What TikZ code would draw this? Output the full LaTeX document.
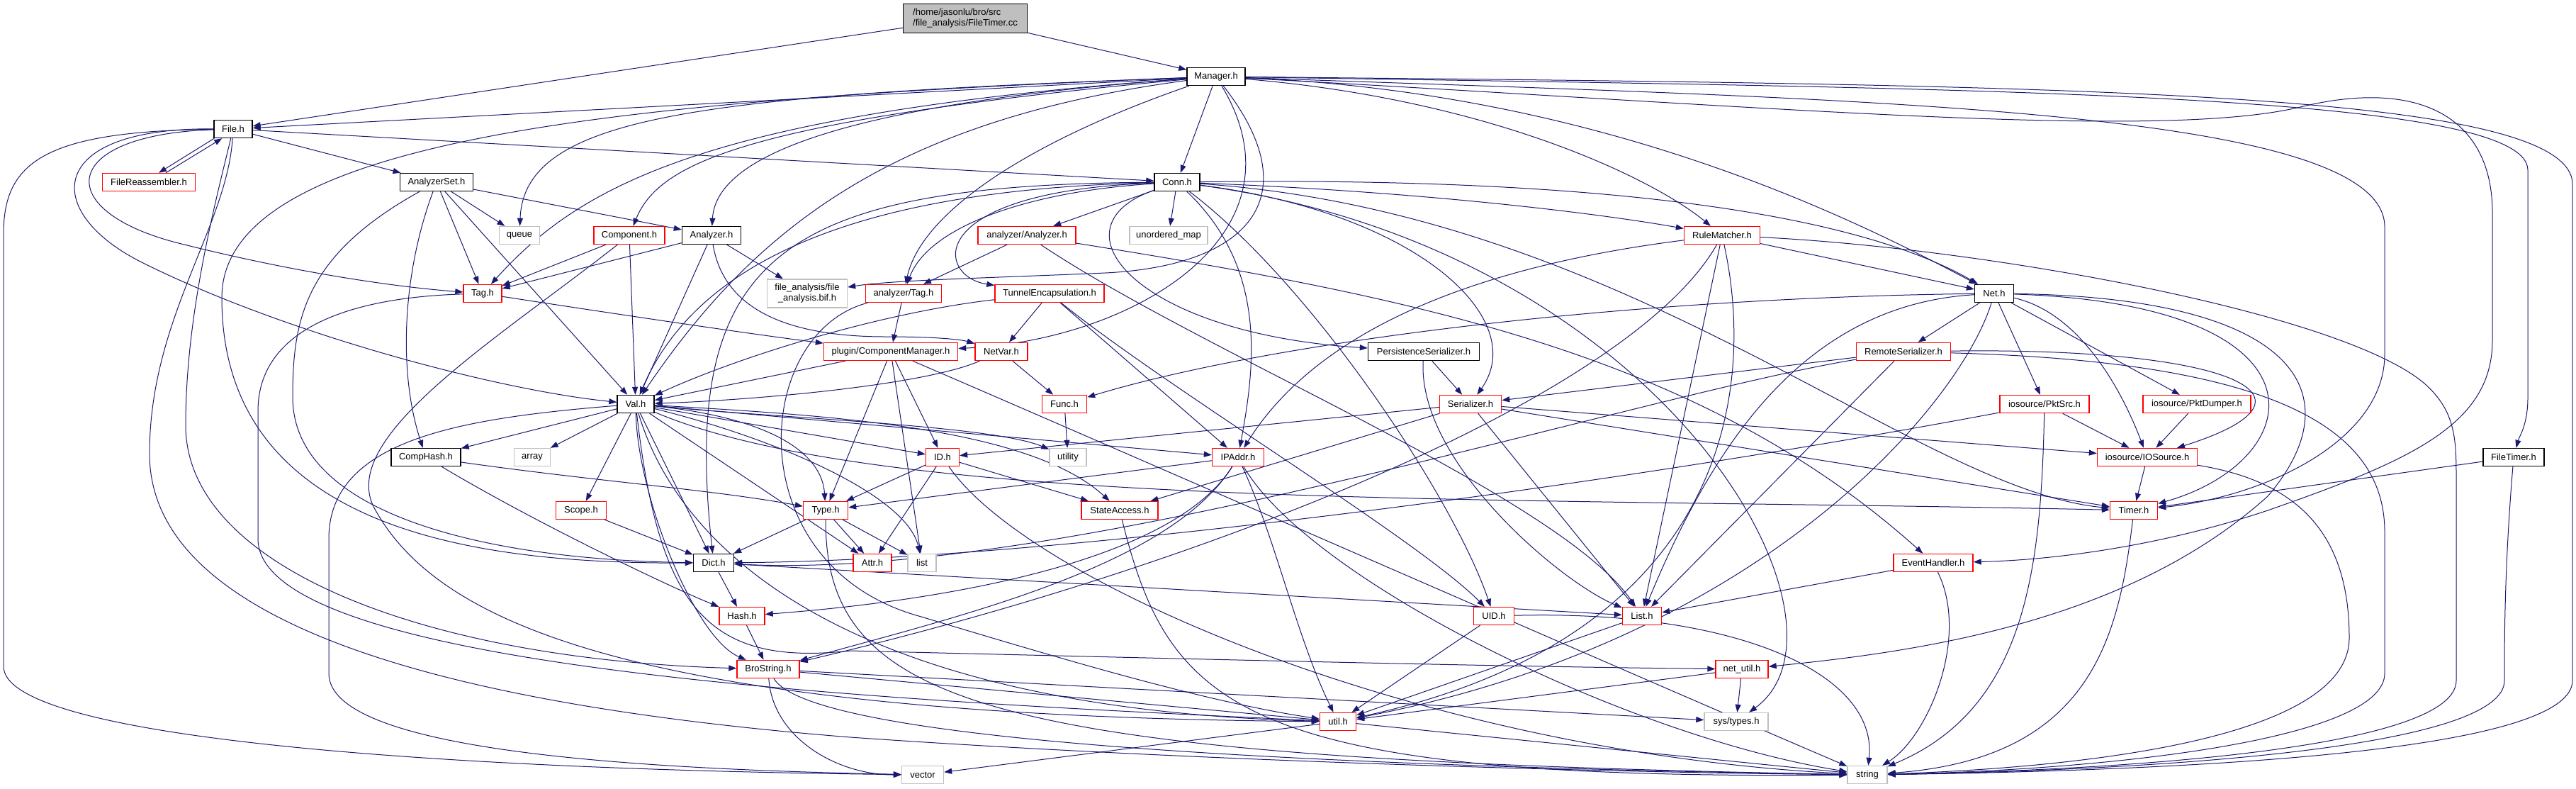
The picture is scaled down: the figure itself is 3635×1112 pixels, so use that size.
\documentclass[tikz,border=0pt]{standalone}
\usepackage{fontspec}
\setmainfont{Liberation Sans}
\usetikzlibrary{arrows.meta}
\definecolor{edgeblue}{HTML}{191970}
\definecolor{extgray}{HTML}{BFBFBF}
\pgfdeclarelayer{edges}
\pgfsetlayers{edges,main}

\begin{document}
\begin{tikzpicture}[x=1pt, y=-1pt,
    hfile/.style={rectangle, draw, fill=white, line width=1.4pt, minimum height=25pt,
      inner sep=0pt, font=\fontsize{13}{15}\selectfont},
    known/.style={hfile, draw=black},
    trunc/.style={hfile, draw=red},
    sysh/.style={hfile, draw=extgray},
    incl/.style={draw=edgeblue, line width=1pt, -{Triangle[length=11pt,width=8pt]}}]

    \useasboundingbox (0,0) rectangle (3635,1112);

    % Kořen
    \node[hfile, fill=extgray, minimum width=175pt, minimum height=41pt, align=left] (root) at (1362,26)
        {/home/jasonlu/bro/src\\/file\_analysis/FileTimer.cc};

    % Hlavičky (černé, červené, systémové)
    \node[known, minimum width=82pt] (mgr) at (1716,108) {Manager.h};
    \node[known, minimum width=54pt] (fileh) at (329,182) {File.h};
    \node[trunc, minimum width=131pt] (freasm) at (210,257) {FileReassembler.h};
    \node[known, minimum width=103pt] (aset) at (616,257) {AnalyzerSet.h};
    \node[known, minimum width=64pt] (conn) at (1661,257) {Conn.h};
    \node[sysh, minimum width=57pt] (queue) at (733,332) {queue};
    \node[trunc, minimum width=100pt] (comp) at (888,332) {Component.h};
    \node[known, minimum width=83pt] (analyzer) at (1004,332) {Analyzer.h};
    \node[trunc, minimum width=138pt] (aanalyzer) at (1449,332) {analyzer/Analyzer.h};
    \node[sysh, minimum width=110pt] (umap) at (1649,332) {unordered\_map};
    \node[trunc, minimum width=107pt] (rule) at (2430,332) {RuleMatcher.h};
    \node[trunc, minimum width=54pt] (tag) at (681,414) {Tag.h};
    \node[sysh, minimum width=113pt, minimum height=40pt, align=center] (bif) at (1139,414)
        {file\_analysis/file\\\_analysis.bif.h};
    \node[trunc, minimum width=107pt] (atag) at (1275,414) {analyzer/Tag.h};
    \node[trunc, minimum width=154pt] (tunnel) at (1481,414) {TunnelEncapsulation.h};
    \node[known, minimum width=55pt] (net) at (2814,414) {Net.h};
    \node[trunc, minimum width=189pt] (compmgr) at (1257,496) {plugin/ComponentManager.h};
    \node[trunc, minimum width=74pt] (netvar) at (1413,496) {NetVar.h};
    \node[known, minimum width=157pt] (pers) at (2009,496) {PersistenceSerializer.h};
    \node[trunc, minimum width=133pt] (remote) at (2686,496) {RemoteSerializer.h};
    \node[known, minimum width=52pt] (val) at (897,570) {Val.h};
    \node[trunc, minimum width=63pt] (func) at (1502,570) {Func.h};
    \node[trunc, minimum width=87pt] (ser) at (2075,570) {Serializer.h};
    \node[trunc, minimum width=126pt] (pktsrc) at (2885,570) {iosource/PktSrc.h};
    \node[trunc, minimum width=152pt] (pktdump) at (3100,570) {iosource/PktDumper.h};
    \node[known, minimum width=98pt] (comphash) at (601,645) {CompHash.h};
    \node[sysh, minimum width=51pt] (array) at (751,645) {array};
    \node[trunc, minimum width=47pt] (idh) at (1330,645) {ID.h};
    \node[sysh, minimum width=52pt] (utility) at (1507,645) {utility};
    \node[trunc, minimum width=73pt] (ipaddr) at (1747,645) {IPAddr.h};
    \node[trunc, minimum width=141pt] (iosrc) at (3030,645) {iosource/IOSource.h};
    \node[known, minimum width=86pt] (ftimer) at (3547,645) {FileTimer.h};
    \node[trunc, minimum width=71pt] (scope) at (820,720) {Scope.h};
    \node[trunc, minimum width=63pt] (type) at (1165,720) {Type.h};
    \node[trunc, minimum width=108pt] (stacc) at (1580,720) {StateAccess.h};
    \node[trunc, minimum width=67pt] (timer) at (3011,720) {Timer.h};
    \node[known, minimum width=57pt] (dict) at (1007,794) {Dict.h};
    \node[trunc, minimum width=54pt] (attr) at (1231,794) {Attr.h};
    \node[sysh, minimum width=40pt] (list) at (1301,794) {list};
    \node[trunc, minimum width=112pt] (evh) at (2728,794) {EventHandler.h};
    \node[trunc, minimum width=64pt] (hash) at (1047,869) {Hash.h};
    \node[trunc, minimum width=57pt] (uid) at (2108,869) {UID.h};
    \node[trunc, minimum width=55pt] (listh) at (2317,869) {List.h};
    \node[trunc, minimum width=88pt] (bstr) at (1084,944) {BroString.h};
    \node[trunc, minimum width=74pt] (netutil) at (2458,944) {net\_util.h};
    \node[trunc, minimum width=51pt] (util) at (1888,1018) {util.h};
    \node[sysh, minimum width=90pt] (systypes) at (2450,1018) {sys/types.h};
    \node[sysh, minimum width=59pt] (vector) at (1302,1093) {vector};
    \node[sysh, minimum width=56pt] (string) at (2635,1093) {string};

    \begin{pgfonlayer}{edges}
    % Přímé hrany
    \foreach \a/\b in {root/fileh, root/mgr, mgr/fileh, mgr/conn, fileh/aset, fileh/conn,
        aset/analyzer, aset/queue, aset/tag, aset/val, comp/tag, comp/val,
        analyzer/tag, analyzer/val, analyzer/bif, conn/aanalyzer, conn/umap,
        aanalyzer/atag, atag/compmgr, tunnel/netvar, tunnel/ipaddr,
        compmgr/val, compmgr/type, compmgr/idh, compmgr/list, netvar/func, func/utility,
        val/comphash, val/array, val/scope, val/dict, val/attr, val/idh, val/ipaddr,
        scope/dict, type/dict, type/attr, type/list, idh/type, idh/attr, idh/stacc,
        ipaddr/type, dict/hash, dict/listh, hash/bstr, bstr/util, bstr/systypes,
        uid/util, listh/util, netutil/util, netutil/systypes, util/vector, util/string,
        evh/listh, iosrc/timer, ftimer/timer, pktsrc/iosrc, pktdump/iosrc,
        remote/ser, remote/listh, pers/ser, ser/idh, ser/listh, ser/iosrc, ser/timer, ser/stacc,
        rule/net, rule/listh, net/remote, net/pktsrc, net/pktdump}
        \draw[incl] (\a) -- (\b);

    \draw[incl] ([xshift=1pt]fileh.south west) -- ([xshift=14pt]freasm.north);
    \draw[incl] ([xshift=24pt]freasm.north) -- ([xshift=12pt]fileh.south west);

    % Oblouky z File.h
    \draw[incl] (fileh) .. controls (60,185) and (5,230) .. (5,330) -- (5,940)
        .. controls (5,1040) and (600,1085) .. (vector);
    \draw[incl] (fileh) .. controls (60,180) and (60,300) .. (200,370)
        .. controls (400,470) and (700,550) .. (val);
    \draw[incl] (fileh) .. controls (80,190) and (70,300) .. (260,345)
        .. controls (420,385) and (560,405) .. (tag);
    \draw[incl] (fileh) .. controls (300,300) and (262,450) .. (262,600)
        .. controls (262,800) and (600,930) .. (bstr);
    \draw[incl] (fileh) .. controls (320,320) and (211,450) .. (211,640)
        .. controls (211,900) and (700,1000) .. (1200,1040)
        .. controls (1700,1075) and (2300,1090) .. (string);

    % Oblouky z Manager.h
    \draw[incl] (mgr) .. controls (1000,135) and (740,160) .. (queue);
    \draw[incl] (mgr) .. controls (1000,160) and (820,260) .. (tag);
    \draw[incl] (mgr) .. controls (1050,170) and (930,230) .. (comp);
    \draw[incl] (mgr) .. controls (1150,150) and (1010,230) .. (analyzer);
    \draw[incl] (mgr) .. controls (1250,170) and (1060,330) .. (val);
    \draw[incl] (mgr) .. controls (1450,200) and (1300,300) .. (atag);
    \draw[incl] (mgr) .. controls (1850,280) and (1760,375) .. (1560,385)
        .. controls (1400,392) and (1260,395) .. (bif);
    \draw[incl] (mgr) .. controls (1850,330) and (1600,480) .. (compmgr);
    \draw[incl] (mgr) .. controls (2100,140) and (2330,250) .. (rule);
    \draw[incl] (mgr) .. controls (2250,130) and (2600,300) .. (net);
    \draw[incl] (mgr) .. controls (900,140) and (313,190) .. (313,420)
        .. controls (313,760) and (700,795) .. (dict);
    \draw[incl] (mgr) .. controls (2600,140) and (3365,150) .. (3365,320) -- (3365,500)
        .. controls (3365,620) and (3200,700) .. (timer);
    \draw[incl] (mgr) .. controls (2500,150) and (3050,200) .. (3250,150)
        .. controls (3420,110) and (3517,170) .. (3517,300) -- (3517,480)
        .. controls (3517,600) and (3400,650) .. (3200,720)
        .. controls (3050,770) and (2900,790) .. (evh);
    \draw[incl] (mgr) .. controls (2800,125) and (3567,130) .. (3567,240) -- (3567,560)
        .. controls (3567,600) and (3555,615) .. (ftimer);
    \draw[incl] (mgr) .. controls (2900,120) and (3630,125) .. (3630,260) -- (3630,960)
        .. controls (3630,1050) and (3200,1085) .. (string);

    % Oblouky z Conn.h
    \draw[incl] (conn) .. controls (1450,270) and (1310,320) .. (atag);
    \draw[incl] (conn) .. controls (1300,270) and (1320,390) .. (tunnel);
    \draw[incl] (conn) .. controls (1300,265) and (1000,330) .. (val);
    \draw[incl] (conn) .. controls (1100,260) and (960,360) .. (dict);
    \draw[incl] (conn) .. controls (1480,320) and (1600,470) .. (pers);
    \draw[incl] (conn) .. controls (2000,300) and (2160,450) .. (ser);
    \draw[incl] (conn) .. controls (1790,380) and (1770,520) .. (ipaddr);
    \draw[incl] (conn) .. controls (1850,400) and (2050,700) .. (uid);
    \draw[incl] (conn) .. controls (2350,350) and (2640,880) .. (systypes);
    \draw[incl] (conn) .. controls (2000,270) and (2250,300) .. (rule);
    \draw[incl] (conn) .. controls (2200,250) and (2600,290) .. (net);
    \draw[incl] (conn) .. controls (2300,300) and (2700,690) .. (timer);

    % Oblouky ze středu
    \draw[incl] (aset) .. controls (570,380) and (560,520) .. (comphash);
    \draw[incl] (aset) .. controls (430,360) and (413,450) .. (413,560)
        .. controls (413,730) and (700,790) .. (dict);
    \draw[incl] (comp) .. controls (700,480) and (470,620) .. (530,720)
        .. controls (620,880) and (900,1010) .. (util);
    \draw[incl] (analyzer) .. controls (1020,430) and (1100,475) .. (1250,475)
        .. controls (1330,475) and (1360,480) .. (netvar);
    \draw[incl] (tag) .. controls (850,440) and (1050,470) .. (compmgr);
    \draw[incl] (tag) .. controls (480,420) and (364,470) .. (364,580) -- (364,760)
        .. controls (364,950) and (1300,990) .. (util);
    \draw[incl] (aanalyzer) .. controls (2000,420) and (2400,500) .. (evh);
    \draw[incl] (aanalyzer) .. controls (1700,500) and (2200,700) .. (listh);
    \draw[incl] (atag) .. controls (1060,470) and (1040,800) .. (1300,870)
        .. controls (1500,930) and (1700,990) .. (util);
    \draw[incl] (tunnel) .. controls (1250,440) and (1050,500) .. (val);
    \draw[incl] (tunnel) .. controls (1650,550) and (2000,760) .. (uid);
    \draw[incl] (netvar) .. controls (1300,545) and (1050,565) .. (val);
    \draw[incl] (compmgr) .. controls (1500,600) and (2300,950) .. (string);

    % Oblouky z Val.h
    \draw[incl] (val) .. controls (1090,590) and (1160,640) .. (type);
    \draw[incl] (val) .. controls (1100,620) and (1280,700) .. (list);
    \draw[incl] (val) .. controls (1100,590) and (1400,600) .. (utility);
    \draw[incl] (val) .. controls (1150,585) and (1450,600) .. (stacc);
    \draw[incl] (val) .. controls (1250,720) and (2100,700) .. (timer);
    \draw[incl] (val) .. controls (900,700) and (980,900) .. (bstr);
    \draw[incl] (val) .. controls (960,780) and (1200,1000) .. (util);
    \draw[incl] (val) .. controls (930,860) and (1000,940) .. (1200,918)
        .. controls (1700,930) and (2100,940) .. (netutil);
    \draw[incl] (val) .. controls (650,590) and (464,620) .. (464,760) -- (464,950)
        .. controls (464,1060) and (900,1085) .. (vector);

    % Oblouky dole
    \draw[incl] (comphash) .. controls (760,740) and (950,830) .. (hash);
    \draw[incl] (comphash) .. controls (850,680) and (1000,690) .. (type);
    \draw[incl] (type) .. controls (1165,1000) and (1400,1070) .. (string);
    \draw[incl] (idh) .. controls (1450,820) and (2000,1060) .. (string);
    \draw[incl] (ipaddr) .. controls (1650,800) and (1350,870) .. (bstr);
    \draw[incl] (ipaddr) .. controls (1650,800) and (1300,850) .. (hash);
    \draw[incl] (ipaddr) .. controls (1800,760) and (1830,900) .. (util);
    \draw[incl] (ipaddr) .. controls (1850,820) and (2300,1040) .. (string);
    \draw[incl] (stacc) .. controls (1650,1000) and (1750,1100) .. (string);
    \draw[incl] (bstr) .. controls (1090,1040) and (1180,1093) .. (vector);
    \draw[incl] (bstr) .. controls (1130,1020) and (1500,1075) .. (string);
    \draw[incl] (uid) .. controls (2450,860) and (2650,950) .. (string);
    \draw[incl] (evh) .. controls (2780,900) and (2720,1040) .. (string);
    \draw[incl] (timer) .. controls (2990,900) and (2950,1070) .. (string);
    \draw[incl] (pers) .. controls (2000,650) and (2200,820) .. (listh);

    % Oblouky vpravo
    \draw[incl] (rule) .. controls (2050,380) and (1850,480) .. (ipaddr);
    \draw[incl] (rule) .. controls (2300,560) and (1700,800) .. (bstr);
    \draw[incl] (rule) .. controls (2480,560) and (2430,900) .. (util);
    \draw[incl] (rule) .. controls (2800,350) and (3300,440) .. (3420,540)
        .. controls (3466,580) and (3466,620) .. (3466,680) -- (3466,960)
        .. controls (3466,1050) and (3050,1085) .. (string);
    \draw[incl] (net) .. controls (2930,440) and (2990,540) .. (iosrc);
    \draw[incl] (net) .. controls (3300,430) and (3260,650) .. (timer);
    \draw[incl] (net) .. controls (3250,420) and (3320,560) .. (3200,700)
        .. controls (3000,880) and (2700,920) .. (netutil);
    \draw[incl] (net) .. controls (2300,420) and (1800,480) .. (func);
    \draw[incl] (net) .. controls (2550,430) and (2420,620) .. (listh);
    \draw[incl] (net) .. controls (2770,560) and (2500,900) .. (util);
    \draw[incl] (remote) .. controls (3150,490) and (3300,560) .. (iosrc);
    \draw[incl] (remote) .. controls (3200,510) and (3365,600) .. (3365,750) -- (3365,950)
        .. controls (3365,1040) and (3000,1085) .. (string);
    \draw[incl] (remote) .. controls (2300,560) and (1500,820) .. (dict);
    \draw[incl] (pktsrc) .. controls (2880,800) and (2860,1000) .. (string);
    \draw[incl] (pktsrc) .. controls (2300,680) and (1500,790) .. (dict);
    \draw[incl] (iosrc) .. controls (3250,680) and (3315,760) .. (3315,900)
        .. controls (3315,1030) and (3000,1080) .. (string);
    \draw[incl] (ftimer) .. controls (3534,800) and (3534,900) .. (3534,960)
        .. controls (3534,1050) and (3100,1085) .. (string);
    \end{pgfonlayer}
\end{tikzpicture}
\end{document}
